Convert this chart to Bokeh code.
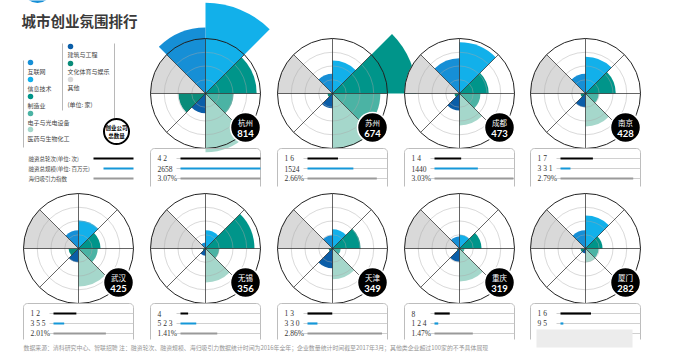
import numpy as np
from bokeh.plotting import figure
from bokeh.models import Range1d, ColumnDataSource
from bokeh.embed import file_html
from bokeh.resources import INLINE
from bokeh.core.properties import value

FONT = value("Noto Sans CJK SC")

# ---------------- data ----------------
cities = ["杭州", "苏州", "成都", "南京", "武汉", "无锡", "天津", "重庆", "厦门"]
totals = [814, 674, 473, 428, 425, 356, 349, 319, 282]
# sectors clockwise from north
categories = ["信息技术", "制造业", "电子与光电设备", "医药与生物化工",
              "建筑与工程", "文化体育与娱乐", "其他", "互联网"]
# sector radius per category (outer ring = 100, "其他" capped at ring)
hangzhou = [165, 93, 51, 107, 36, 49, 100, 120]
suzhou = [60, 153, 87, 100, 27, 9, 100, 36]
chengdu = [93, 53, 38, 58, 31, 9, 100, 64]
nanjing = [67, 55, 24, 60, 25, 9, 100, 36]
wuhan = [51, 40, 35, 69, 25, 18, 100, 33]
wuxi = [33, 89, 25, 62, 13, 5, 100, 11]
tianjin = [35, 51, 15, 56, 36, 7, 100, 24]
chongqing = [25, 40, 9, 60, 24, 5, 100, 22]
xiamen = [60, 31, 24, 25, 9, 9, 100, 33]
sectors = [hangzhou, suzhou, chengdu, nanjing, wuhan, wuxi, tianjin, chongqing, xiamen]

rounds = [42, 16, 14, 17, 12, 4, 13, 8, 16]            # 融资总轮次
funding = [2658, 1524, 1440, 331, 355, 523, 330, 124, 95]  # 融资总规模(百万元)
returnee = [3.07, 2.66, 3.03, 2.79, 2.01, 1.41, 2.86, 1.47, None]  # 海归吸引力指数 %

cat_colors = {"互联网": "#168fd6", "信息技术": "#12b0ea", "制造业": "#00958a",
              "电子与光电设备": "#4bb3a4", "医药与生物化工": "#a5d7cb",
              "建筑与工程": "#0b5ea8", "文化体育与娱乐": "#0a8c7a", "其他": "#d9d9d9"}
legend_left = ["互联网", "信息技术", "制造业", "电子与光电设备", "医药与生物化工"]
legend_right = ["建筑与工程", "文化体育与娱乐", "其他"]

# ---------------- layout ----------------
R = 55
col_x = [78, 205, 332, 459, 585]
row_y = [93, 248]
centers = [(col_x[1], row_y[0]), (col_x[2], row_y[0]), (col_x[3], row_y[0]), (col_x[4], row_y[0]),
           (col_x[0], row_y[1]), (col_x[1], row_y[1]), (col_x[2], row_y[1]), (col_x[3], row_y[1]),
           (col_x[4], row_y[1])]

p = figure(width=680, height=356, x_range=Range1d(0, 680), y_range=Range1d(-356, 0),
           output_backend="svg", toolbar_location=None, min_border=0,
           x_axis_type=None, y_axis_type=None)
p.grid.visible = False
p.outline_line_color = None
p.background_fill_color = "white"
p.border_fill_color = "white"

# decorative cut-off circle at the top
p.circle(x=[37], y=[12], radius=14.5, fill_color="#168fd6", line_color=None)

# wedges
wx, wy, wr, a0, a1, wc = [], [], [], [], [], []
for ci, vals in enumerate(sectors):
    cx, cy = centers[ci]
    for k, v in enumerate(vals):
        wx.append(cx); wy.append(-cy); wr.append(v / 100 * R)
        a0.append(90 - 45 * (k + 1)); a1.append(90 - 45 * k)
        wc.append(cat_colors[categories[k]])
p.wedge(x="x", y="y", radius="r", start_angle="a0", end_angle="a1",
        start_angle_units="deg", end_angle_units="deg",
        fill_color="c", line_color=None,
        source=ColumnDataSource(dict(x=wx, y=wy, r=wr, a0=a0, a1=a1, c=wc)))

# rings, spokes
cxs = [c[0] for c in centers]
cys = [-c[1] for c in centers]
for f in [0.25, 0.5, 0.75]:
    p.circle(x=cxs, y=cys, radius=R * f, fill_color=None, line_color="#a8a8a8",
             line_alpha=0.55, line_width=0.8)
p.circle(x=cxs, y=cys, radius=R, fill_color=None, line_color="#222222", line_width=1)
sx0, sy0, sx1, sy1 = [], [], [], []
for cx, cy in centers:
    for ang in range(0, 360, 45):
        t = np.deg2rad(ang)
        sx0.append(cx); sy0.append(-cy)
        sx1.append(cx + R * np.cos(t)); sy1.append(-cy + R * np.sin(t))
p.segment(x0=sx0, y0=sy0, x1=sx1, y1=sy1, line_color="#222222", line_width=0.7)

# badges
bx = [c[0] + 40 for c in centers]
by = [-c[1] - 34 for c in centers]
p.circle(x=bx, y=by, radius=15, fill_color="black", line_color="white", line_width=1.5)
p.text(x=bx, y=[b + 5 for b in by], text=cities, text_font=FONT, text_font_size=value("7.5px"),
       text_color="white", text_align="center", text_baseline="middle")
p.text(x=bx, y=[b - 6 for b in by], text=[str(t) for t in totals], text_font=value("Lato"),
       text_font_size=value("9.5px"), text_font_style="bold",
       text_color="white", text_align="center", text_baseline="middle")

# info boxes
max_r, max_f, max_h = max(rounds), max(funding), max(v for v in returnee if v is not None)
BAR = 80
def spaced(v, sep):
    return sep.join(str(v))
for ci, (cx, cy) in enumerate(centers):
    top = cy + 55
    bottom = top + (38 if cy < 200 else 36)
    l, r, rr = cx - 55, cx + 55, 4
    th = np.linspace(0, np.pi / 2, 8)
    bxs = [l] + list(l + rr - rr * np.cos(th)) + list(r - rr + rr * np.sin(th)) + [r]
    bys = [bottom] + list(top + rr - rr * np.sin(th)) + list(top + rr - rr * np.cos(th)) + [bottom]
    p.line(x=bxs, y=[-v for v in bys], line_color="#b5b5b5", line_width=0.9)
    rows_y = [top + 10, top + 20, top + 30]
    for ry in rows_y:
        p.segment(x0=[cx - 29], y0=[-ry], x1=[r], y1=[-ry], line_color="#c4c4c4", line_width=0.8)
    p.segment(x0=[cx - 25], y0=[-rows_y[0]], x1=[cx - 25 + BAR * rounds[ci] / max_r], y1=[-rows_y[0]],
              line_color="black", line_width=2.2)
    p.segment(x0=[cx - 25], y0=[-rows_y[1]], x1=[cx - 25 + BAR * funding[ci] / max_f], y1=[-rows_y[1]],
              line_color="#1597d8", line_width=2.2)
    fs = str(funding[ci])
    texts = [spaced(rounds[ci], "    "), fs if len(fs) >= 4 else spaced(funding[ci], " ")]
    if returnee[ci] is not None:
        p.segment(x0=[cx - 25], y0=[-rows_y[2]], x1=[cx - 25 + BAR * returnee[ci] / max_h], y1=[-rows_y[2]],
                  line_color="#9a9a9a", line_width=2)
        texts.append(f"{returnee[ci]:.2f}%")
    p.text(x=[cx - 48] * len(texts), y=[-v for v in rows_y[:len(texts)]], text=texts,
           text_font=value("Liberation Serif"), text_font_size=value("7.5px"), text_color="#333333",
           text_baseline="middle")

# watermark patch
p.quad(left=[536], right=[632], top=[-329], bottom=[-347], fill_color="#ececec", line_color=None)

# title
p.text(x=[21], y=[-20], text=["城市创业氛围排行"], text_font=FONT, text_font_size=value("14.5px"),
       text_font_style="bold", text_color="#3a3a3a", text_baseline="middle")

# legend
p.segment(x0=[23, 62, 114], y0=[-60, -43, -43], x1=[23, 62, 114], y1=[-147, -110, -118],
          line_color="#b0b0b0", line_width=0.9)
ly_dot = [62, 79, 96, 113, 129]
p.scatter(x=[30] * 5, y=[-v for v in ly_dot], size=5.5, fill_color=[cat_colors[c] for c in legend_left],
          line_color=None)
p.text(x=[27] * 5, y=[-(v + 9) for v in ly_dot], text=legend_left, text_font=FONT,
       text_font_size=value("6px"), text_color="#444444", text_baseline="middle")
ry_dot = [46, 63, 79]
p.scatter(x=[70] * 3, y=[-v for v in ry_dot], size=5.5, fill_color=[cat_colors[c] for c in legend_right],
          line_color=None)
p.text(x=[67] * 4, y=[-(v + 8) for v in ry_dot] + [-104], text=legend_right + ["(单位: 家)"],
       text_font=FONT, text_font_size=value("6px"), text_color="#444444", text_baseline="middle")
p.circle(x=[116], y=[-131], radius=12.5, fill_color="white", line_color="black", line_width=2)
p.text(x=[116, 116], y=[-127.5, -135], text=["创业公司", "总数量"], text_font=FONT,
       text_font_size=value("5.5px"), text_font_style="bold", text_color="black",
       text_align="center", text_baseline="middle")

p.text(x=[28, 28, 28], y=[-158, -168, -178],
       text=["融资总轮次(单位: 次)", "融资总规模(单位: 百万元)", "海归吸引力指数"],
       text_font=FONT, text_font_size=value("5.5px"), text_color="#444444", text_baseline="middle")
p.segment(x0=[93, 103, 93], y0=[-158, -168, -178], x1=[133, 133, 133], y1=[-158, -168, -178],
          line_color=["black", "#1597d8", "#9a9a9a"], line_width=2)

# footer
p.text(x=[23], y=[-347], text=["数据来源：清科研究中心、智联招聘  注：融资轮次、融资规模、海归吸引力数据统计时间为2016年全年；"
                               "企业数量统计时间截至2017年3月；其他类企业超过100家的不予具体展现"],
       text_font=FONT, text_font_size=value("5.9px"), text_color="#959595", text_baseline="middle")

open("out.html", "w").write(file_html(p, INLINE))
